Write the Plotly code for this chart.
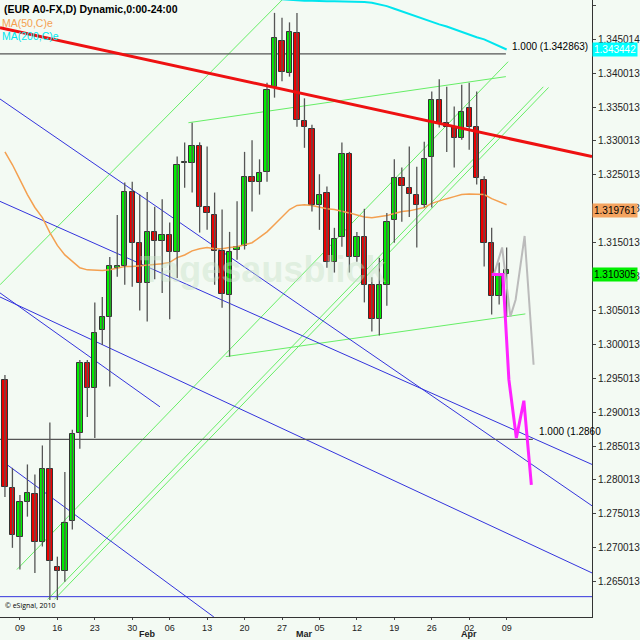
import plotly.graph_objects as go

# ---------------- data ----------------
opens = [1.2947,1.2789,1.2716,1.2767,1.2780,1.2709,1.2817,1.2672,1.2666,1.2739,
         1.2870,1.2973,1.2936,1.3022,1.3041,1.3113,1.3116,1.3225,1.3150,1.3091,
         1.3166,1.3153,1.3162,1.3137,1.3267,1.3268,1.3292,1.3203,1.3191,1.3138,
         1.3073,1.3140,1.3145,1.3247,1.3239,1.3255,1.3379,1.3447,1.3401,1.3460,
         1.3329,1.3318,1.3205,1.3224,1.3121,1.3158,1.3281,1.3129,1.3158,1.3088,
         1.3038,1.3087,1.3183,1.3245,1.3231,1.3221,1.3205,1.3277,1.3360,1.3326,
         1.3320,1.3305,1.3349,1.3320,1.3242,1.3149,1.3072,1.3104]
closes = [1.2790,1.2719,1.2767,1.2781,1.2708,1.2817,1.2680,1.2666,1.2737,1.2868,
          1.2973,1.2936,1.3017,1.3041,1.3115,1.3116,1.3225,1.3150,1.3091,1.3166,
          1.3153,1.3162,1.3137,1.3265,1.3268,1.3292,1.3203,1.3194,1.3138,1.3075,
          1.3137,1.3144,1.3247,1.3239,1.3253,1.3376,1.3452,1.3402,1.3461,1.3331,
          1.3320,1.3205,1.3221,1.3121,1.3156,1.3281,1.3129,1.3158,1.3088,1.3038,
          1.3088,1.3180,1.3245,1.3233,1.3222,1.3205,1.3274,1.3360,1.3326,1.3321,
          1.3305,1.3343,1.3321,1.3245,1.3150,1.3072,1.3103,1.3110]
highs = [1.2955,1.2818,1.2778,1.2823,1.2808,1.2851,1.2885,1.2687,1.2812,1.2874,
         1.2977,1.2977,1.3062,1.3070,1.3129,1.3191,1.3239,1.3240,1.3221,1.3225,
         1.3203,1.3214,1.3180,1.3277,1.3298,1.3327,1.3298,1.3292,1.3224,1.3199,
         1.3166,1.3211,1.3284,1.3301,1.3273,1.3386,1.3489,1.3482,1.3475,1.3489,
         1.3363,1.3324,1.3251,1.3233,1.3172,1.3298,1.3284,1.3166,1.3200,1.3099,
         1.3128,1.3194,1.3273,1.3261,1.3292,1.3262,1.3299,1.3373,1.3391,1.3380,
         1.3351,1.3383,1.3386,1.3373,1.3248,1.3172,1.3121,1.3143]
lows = [1.2775,1.2700,1.2668,1.2746,1.2663,1.2702,1.2623,1.2623,1.2650,1.2727,
        1.2846,1.2893,1.2862,1.2999,1.2938,1.3100,1.3088,1.3085,1.3050,1.3034,
        1.3096,1.3076,1.3037,1.3098,1.3231,1.3224,1.3165,1.3169,1.3088,1.3054,
        1.2982,1.3125,1.3140,1.3196,1.3221,1.3240,1.3364,1.3388,1.3395,1.3321,
        1.3290,1.3196,1.3169,1.3113,1.3106,1.3144,1.3106,1.3122,1.3062,1.3019,
        1.3013,1.3057,1.3150,1.3181,1.3188,1.3143,1.3202,1.3202,1.3320,1.3284,
        1.3261,1.3302,1.3287,1.3236,1.3115,1.3044,1.3059,1.3041]
ma50 = [1.3284,1.3265,1.3243,1.3221,1.3202,1.3187,1.3165,1.3146,1.3132,1.3122,
        1.3113,1.3110,1.3109,1.3109,1.3110,1.3113,1.3115,1.3115,1.3116,1.3116,
        1.3118,1.3119,1.3121,1.3128,1.3132,1.3138,1.3141,1.3143,1.3141,1.3141,
        1.3143,1.3144,1.3147,1.3150,1.3158,1.3166,1.3177,1.3188,1.3199,1.3205,
        1.3206,1.3205,1.3202,1.3200,1.3199,1.3197,1.3194,1.3191,1.3188,1.3187,
        1.3188,1.3190,1.3193,1.3196,1.3197,1.3199,1.3202,1.3208,1.3212,1.3215,
        1.3218,1.3221,1.3222,1.3222,1.3221,1.3215,1.3211,1.3206]
ma200_start = 35
ma200 = [1.3515,1.3510,1.3509,1.3508,1.3508,1.3507,1.3507,1.3506,1.3506,1.3506,
         1.3506,1.3505,1.3505,1.3505,1.3504,1.3502,1.3499,1.3495,1.3491,1.3487,
         1.3484,1.3480,1.3476,1.3472,1.3469,1.3465,1.3460,1.3456,1.3453,1.3450,
         1.3445,1.3440,1.3435]
fc_pink_x = [65.0,66.5,67.3,68.3,69.3,70.3]
fc_pink_y = [1.3103,1.3103,1.2948,1.2862,1.2917,1.2793]
fc_gray_x = [65.3,66.4,67.5,68.2,69.4,70.6]
fc_gray_y = [1.3103,1.3143,1.3041,1.3066,1.3160,1.2970]

# trendlines: (x0, y0, x1, y1) in candle-index / price units
red_lines = [(-0.66,1.3467,78.4,1.3277)]
blue_lines = [(-0.66,1.3362,78.4,1.2762),(-0.66,1.3211,78.4,1.2823),
              (-0.66,1.3076,20.7,1.2908),(-0.66,1.3070,78.4,1.2663),
              (-0.13,1.2826,27.9,1.2598),(-0.66,1.2628,78.4,1.2628)]
green_lines = [(-0.66,1.3088,37.1,1.3509),(1.6,1.2668,67.2,1.3417),
               (5.7,1.2624,71.9,1.3380),(6.6,1.2624,72.6,1.3379),
               (24.5,1.3327,66.9,1.3395),(29.5,1.2982,69.5,1.3045)]
fib_levels = [(1.342863,66.9,"1.000 (1.342863)"),(1.2860,70.5,"1.000 (1.2860")]

tick_pos = [2,7,12,17,22,27,32,37,42,47,52,57,62,67]
tick_txt = ["09","16","23","30","06","13","20","27","05","12","19","26","02","09"]
month_pos = [19,40,62]
month_txt = ["Feb","Mar","Apr"]
price_ticks = [1.265013,1.270013,1.275013,1.280013,1.285013,1.290013,1.295013,
               1.300013,1.305013,1.310013,1.315013,1.320013,1.325013,1.330013,
               1.335013,1.340013,1.345014,1.350014]
last_boxes = [(1.343442,"1.343442","#00ffff","#ffffff"),
              (1.319761,"1.319761","#f4a460","#000000"),
              (1.310305,"1.310305","#00ee00","#000000")]

idx = list(range(len(opens)))
fig = go.Figure()
fig.add_trace(go.Scatter(x=idx, y=ma50, mode="lines", line=dict(color="#f4a050", width=1.5), hoverinfo="skip"))
fig.add_trace(go.Scatter(x=list(range(ma200_start, ma200_start+len(ma200))), y=ma200, mode="lines",
                         line=dict(color="#00e5ee", width=2), hoverinfo="skip"))
# wicks
wx, wy = [], []
for i in idx:
    wx += [i, i, None]
    wy += [lows[i], highs[i], None]
fig.add_trace(go.Scatter(x=wx, y=wy, mode="lines", line=dict(color="#555555", width=1.3), hoverinfo="skip"))
# bodies
base = [min(o, c) for o, c in zip(opens, closes)]
hgt = [max(abs(c - o), 0.00015) for o, c in zip(opens, closes)]
cols = ["#00ee00" if c >= o else "#ee0000" for o, c in zip(opens, closes)]
fig.add_trace(go.Bar(x=idx, y=hgt, base=base, width=0.72, marker=dict(color=cols, line=dict(color="#333333", width=1))))
fig.add_trace(go.Scatter(x=fc_gray_x, y=fc_gray_y, mode="lines", line=dict(color="#bbbbbb", width=2)))
fig.add_trace(go.Scatter(x=fc_pink_x, y=fc_pink_y, mode="lines", line=dict(color="#ff22ff", width=3)))

for lines, col, w in [(green_lines, "#66ee66", 1), (blue_lines, "#3333dd", 1), (red_lines, "#ee1111", 3)]:
    for (a, b, c, d) in lines:
        fig.add_shape(type="line", x0=a, y0=b, x1=c, y1=d, xref="x", yref="y",
                      line=dict(color=col, width=w), layer="below" if col != "#ee1111" else "above")
for (p, xe, t) in fib_levels:
    fig.add_shape(type="line", x0=-0.66, y0=p, x1=xe, y1=p, xref="x", yref="y",
                  line=dict(color="#555555", width=1.2), layer="below")
    fig.add_annotation(x=xe+0.5, y=p, text=t, showarrow=False, xanchor="left", yanchor="bottom",
                       font=dict(size=10, color="#000000", family="Liberation Sans"))

fig.add_annotation(x=0.003, y=0.999, xref="paper", yref="paper", xanchor="left", yanchor="top",
                   text="<b>(EUR A0-FX,D) Dynamic,0:00-24:00</b>", showarrow=False,
                   font=dict(size=10.5, color="#000000", family="Liberation Sans"))
fig.add_annotation(x=0.0, y=0.975, xref="paper", yref="paper", xanchor="left", yanchor="top",
                   text="MA(50,C)e", showarrow=False, font=dict(size=10.5, color="#f4a050", family="Liberation Sans"))
fig.add_annotation(x=0.0, y=0.955, xref="paper", yref="paper", xanchor="left", yanchor="top",
                   text="MA(200,C)e", showarrow=False, font=dict(size=10.5, color="#00e5ee", family="Liberation Sans"))
fig.add_annotation(x=34.5, y=1.3110, text="<b>Tagesausblick</b>", showarrow=False,
                   font=dict(size=36, color="rgba(200,225,200,0.45)", family="Liberation Sans"))
fig.add_annotation(x=0.005, y=0.008, xref="paper", yref="paper", xanchor="left", yanchor="bottom",
                   text="© eSignal, 2010", showarrow=False, font=dict(size=7, color="#000000"))
for (p, t, bg, fg) in last_boxes:
    fig.add_annotation(x=1.0, y=p, xref="paper", yref="y", xanchor="left", text=t, showarrow=False,
                       bgcolor=bg, font=dict(size=10, color=fg, family="Liberation Sans"), borderpad=1)
for (m, t) in zip(month_pos, month_txt):
    fig.add_annotation(x=m, y=-0.0275, xref="x", yref="paper", yanchor="middle", text="<b>"+t+"</b>",
                       showarrow=False, font=dict(size=9, color="#222222", family="Liberation Sans"))

fig.update_layout(width=640, height=640, margin=dict(l=0, r=43, t=0, b=23),
                  plot_bgcolor="#f3faf3", paper_bgcolor="#f3faf3", showlegend=False, bargap=0,
                  xaxis=dict(range=[-0.66, 78.4], tickvals=tick_pos, ticktext=tick_txt, showgrid=False,
                             zeroline=False, showline=True, linecolor="#333333", ticks="outside", ticklen=2,
                             tickfont=dict(size=9, color="#222222", family="Liberation Sans")),
                  yaxis=dict(range=[1.2598, 1.3508], side="right", tickvals=price_ticks,
                             ticktext=["%.6f" % v for v in price_ticks], showgrid=False, zeroline=False,
                             showline=True, linecolor="#333333", ticks="outside", ticklen=3,
                             tickfont=dict(size=10, color="#222222", family="Liberation Sans")))
fig.write_html("out.html", config={"displayModeBar": False},
               post_script="document.body.style.margin='0';document.body.style.overflow='hidden';")
